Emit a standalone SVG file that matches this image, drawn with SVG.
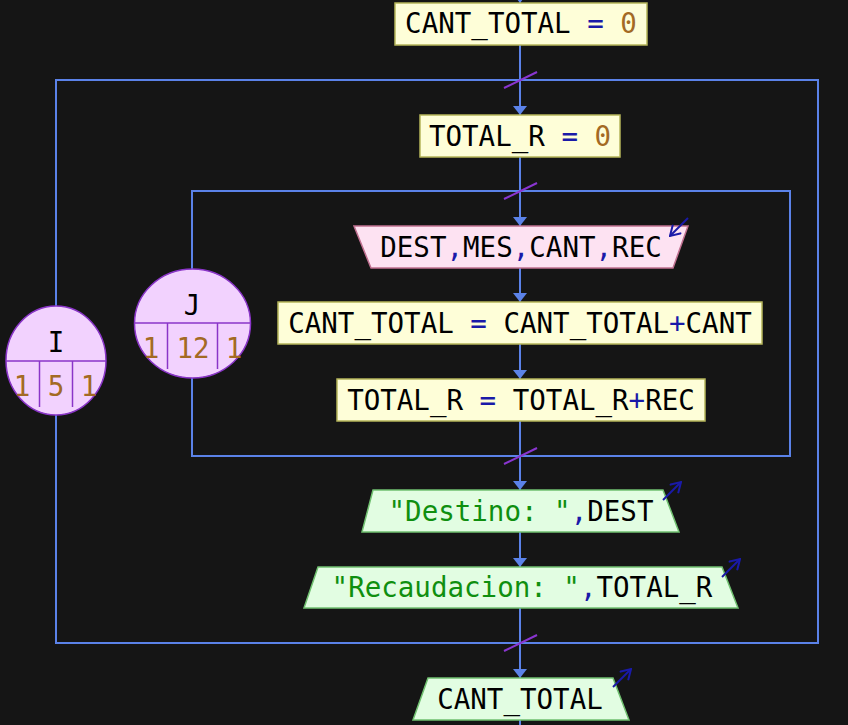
<svg xmlns="http://www.w3.org/2000/svg" width="848" height="725" viewBox="0 0 848 725">
<style>
.t{font-family:"DejaVu Sans Mono","Liberation Mono",monospace;font-size:27.5px;fill:#000}
.op{fill:#1a1aa8}
.num{fill:#a36a24}
.str{fill:#0f8f0f}
.box{fill:#fefed8;stroke:#b5b55a;stroke-width:1.5}
.in{fill:#fde2f2;stroke:#c07090;stroke-width:1.5}
.out{fill:#e2fde2;stroke:#70c070;stroke-width:1.5}
.loop{fill:#f2d2fe;stroke:#8a35c8;stroke-width:1.5}
.lc{stroke:#8a35c8;stroke-width:1.5}
.ln{fill:none;stroke:#5b82e8;stroke-width:2}
.hatch{stroke:#8a35d0;stroke-width:2}
.io{stroke:#1a1aa8;stroke-width:2;fill:none}
</style>
<defs>
<marker id="ah" viewBox="0 0 9 14" refX="9" refY="7" markerWidth="9" markerHeight="14" markerUnits="userSpaceOnUse" orient="auto">
<path d="M0,0 L9,7 L0,14 z" fill="#5b82e8"/>
</marker>
<marker id="ioh" viewBox="0 0 12 14" refX="11" refY="7" markerWidth="12" markerHeight="14" markerUnits="userSpaceOnUse" orient="auto">
<path d="M1,1 L11,7 L1,13" fill="none" stroke="#1a1aa8" stroke-width="2"/>
</marker>
</defs>
<rect width="848" height="725" fill="#151515"/>
<g id="connectors">
<line class="ln" x1="520" y1="-10" x2="520" y2="3" marker-end="url(#ah)"/>
<line class="ln" x1="520" y1="45" x2="520" y2="115" marker-end="url(#ah)"/>
<line class="ln" x1="520" y1="157" x2="520" y2="226" marker-end="url(#ah)"/>
<line class="ln" x1="520" y1="268" x2="520" y2="302" marker-end="url(#ah)"/>
<line class="ln" x1="520" y1="344" x2="520" y2="379" marker-end="url(#ah)"/>
<line class="ln" x1="520" y1="421" x2="520" y2="490" marker-end="url(#ah)"/>
<line class="ln" x1="520" y1="532" x2="520" y2="567" marker-end="url(#ah)"/>
<line class="ln" x1="520" y1="608" x2="520" y2="678" marker-end="url(#ah)"/>
<line class="ln" x1="520" y1="720" x2="520" y2="730"/>
<path class="ln" d="M56,306 V80 H818 V643 H56 V415"/>
<path class="ln" d="M192,269 V191 H790 V456 H192 V378"/>
<line class="hatch" x1="504" y1="88" x2="537" y2="72"/>
<line class="hatch" x1="504" y1="199" x2="537" y2="183"/>
<line class="hatch" x1="504" y1="464" x2="537" y2="448"/>
<line class="hatch" x1="504" y1="651" x2="537" y2="635"/>
</g>
<g id="n1">
<rect class="box" x="395" y="3" width="252" height="42"/>
<text class="t" x="521" y="33" text-anchor="middle">CANT_TOTAL <tspan class="op">=</tspan> <tspan class="num">0</tspan></text>
</g>
<g id="n2">
<rect class="box" x="420" y="115" width="200" height="42"/>
<text class="t" x="520" y="146" text-anchor="middle">TOTAL_R <tspan class="op">=</tspan> <tspan class="num">0</tspan></text>
</g>
<g id="n3">
<polygon class="in" points="354,226 688,226 673,268 371,268"/>
<text class="t" x="521" y="257" text-anchor="middle">DEST<tspan class="op">,</tspan>MES<tspan class="op">,</tspan>CANT<tspan class="op">,</tspan>REC</text>
<line class="io" x1="688" y1="218" x2="670" y2="236" marker-end="url(#ioh)"/>
</g>
<g id="n4">
<rect class="box" x="278" y="302" width="484" height="42"/>
<text class="t" x="520" y="333" text-anchor="middle">CANT_TOTAL <tspan class="op">=</tspan> CANT_TOTAL<tspan class="op">+</tspan>CANT</text>
</g>
<g id="n5">
<rect class="box" x="337" y="379" width="368" height="42"/>
<text class="t" x="521" y="410" text-anchor="middle">TOTAL_R <tspan class="op">=</tspan> TOTAL_R<tspan class="op">+</tspan>REC</text>
</g>
<g id="n6">
<polygon class="out" points="373,490 663,490 679,532 362,532"/>
<text class="t" x="521" y="521" text-anchor="middle"><tspan class="str">"Destino: "</tspan><tspan class="op">,</tspan>DEST</text>
<line class="io" x1="663" y1="500" x2="681" y2="482" marker-end="url(#ioh)"/>
</g>
<g id="n7">
<polygon class="out" points="318,567 722,567 738,608 304,608"/>
<text class="t" x="522" y="597" text-anchor="middle"><tspan class="str">"Recaudacion: "</tspan><tspan class="op">,</tspan>TOTAL_R</text>
<line class="io" x1="722" y1="577" x2="740" y2="559" marker-end="url(#ioh)"/>
</g>
<g id="n8">
<polygon class="out" points="428,678 613,678 629,720 413,720"/>
<text class="t" x="520" y="709" text-anchor="middle">CANT_TOTAL</text>
<line class="io" x1="613" y1="687" x2="631" y2="669" marker-end="url(#ioh)"/>
</g>
<g id="loopI">
<ellipse class="loop" cx="56" cy="360.5" rx="50" ry="54.5"/>
<line class="lc" x1="6" y1="361" x2="106" y2="361"/>
<line class="lc" x1="39.5" y1="361" x2="39.5" y2="407"/>
<line class="lc" x1="72.5" y1="361" x2="72.5" y2="407"/>
<text class="t" x="56" y="352" text-anchor="middle">I</text>
<text class="t num" x="22" y="396" text-anchor="middle">1</text>
<text class="t num" x="56" y="396" text-anchor="middle">5</text>
<text class="t num" x="89" y="396" text-anchor="middle">1</text>
</g>
<g id="loopJ">
<ellipse class="loop" cx="192.5" cy="323.5" rx="58" ry="54.5"/>
<line class="lc" x1="134.5" y1="323" x2="250.5" y2="323"/>
<line class="lc" x1="167.5" y1="323" x2="167.5" y2="369"/>
<line class="lc" x1="217.5" y1="323" x2="217.5" y2="369"/>
<text class="t" x="192" y="315" text-anchor="middle">J</text>
<text class="t num" x="151" y="358" text-anchor="middle">1</text>
<text class="t num" x="193" y="358" text-anchor="middle">12</text>
<text class="t num" x="234" y="358" text-anchor="middle">1</text>
</g>
</svg>
